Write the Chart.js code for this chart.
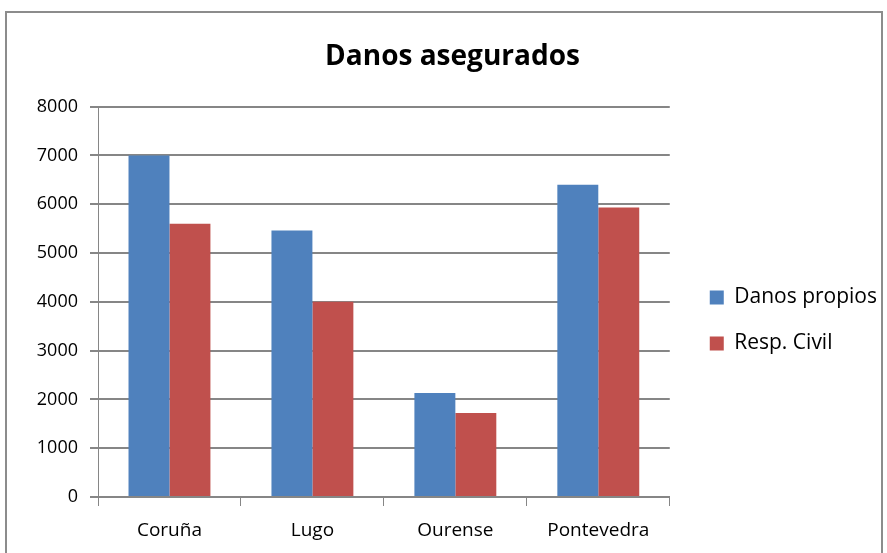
<!DOCTYPE html>
<html>
<head>
<meta charset="utf-8">
<script src="https://cdn.jsdelivr.net/npm/chart.js@4"></script>
<style>
  html, body { margin: 0; padding: 0; background: #fff; }
  #wrap { position: relative; width: 887px; height: 553px; }
  #frame { position: absolute; left: 5px; top: 11px; width: 878px; height: 545px; border: 2px solid #8c8c8c; box-sizing: border-box; }
  canvas { position: absolute; left: 0; top: 0; }
</style>
</head>
<body>
<div id="wrap">
  <div id="frame"></div>
  <canvas id="chart" width="887" height="553"></canvas>
</div>
<script>
const provincias = ["Coruña", "Lugo", "Ourense", "Pontevedra"]
const danosPropios = [7000, 5460, 2130, 6400]
const respCivil = [5600, 4000, 1720, 5930]
const yTicks = [0, 1000, 2000, 3000, 4000, 5000, 6000, 7000, 8000]

const gris = "#868686"
const fuente = "'Open Sans', 'Noto Sans', sans-serif"

Chart.defaults.font.family = fuente
Chart.defaults.color = "#000"

const config = {
  type: "bar",
  data: {
    labels: provincias,
    datasets: [
      {
        label: "Danos propios",
        backgroundColor: "#4f81bd",
        data: danosPropios
      },
      {
        label: "Resp. Civil",
        backgroundColor: "#c0504d",
        data: respCivil
      }
    ]
  },
  options: {
    responsive: false,
    animation: false,
    datasets: {
      bar: {
        barPercentage: 1,
        categoryPercentage: 0.573
      }
    },
    layout: {
      padding: { left: 18, right: 0, top: 40, bottom: 0 }
    },
    scales: {
      x: {
        afterFit: s => { s.height = 56 },
        grid: {
          display: true,
          drawOnChartArea: false,
          drawTicks: true,
          tickLength: 9,
          color: gris,
          lineWidth: 1
        },
        border: { color: gris, width: 2 },
        ticks: {
          font: { size: 19 },
          padding: 13
        }
      },
      y: {
        min: 0,
        max: 8000,
        afterFit: s => { s.width = 80 },
        afterBuildTicks: axis => { axis.ticks = yTicks.map(v => ({ value: v })) },
        grid: {
          color: gris,
          lineWidth: 2,
          tickLength: 8
        },
        border: { color: gris, width: 1 },
        ticks: {
          font: { size: 18 },
          padding: 12,
          callback: v => String(v)
        }
      },
      // hueco vacio entre el grafico y la leyenda
      hueco: {
        position: "right",
        afterFit: s => { s.width = 15 },
        grid: { display: false },
        border: { display: false },
        ticks: { display: false }
      }
    },
    plugins: {
      title: {
        display: true,
        text: "Danos asegurados",
        font: { size: 28, weight: "bold" },
        padding: { top: 0, bottom: 33 }
      },
      legend: {
        position: "right",
        maxWidth: 240,
        title: {
          display: true,
          text: "",
          font: { size: 10 },
          padding: { top: 18, bottom: 18 }
        },
        labels: {
          boxWidth: 14,
          boxHeight: 14,
          font: { size: 21 },
          padding: 25
        }
      },
      tooltip: { enabled: false }
    }
  }
}

new Chart(document.getElementById("chart"), config)
</script>
</body>
</html>
